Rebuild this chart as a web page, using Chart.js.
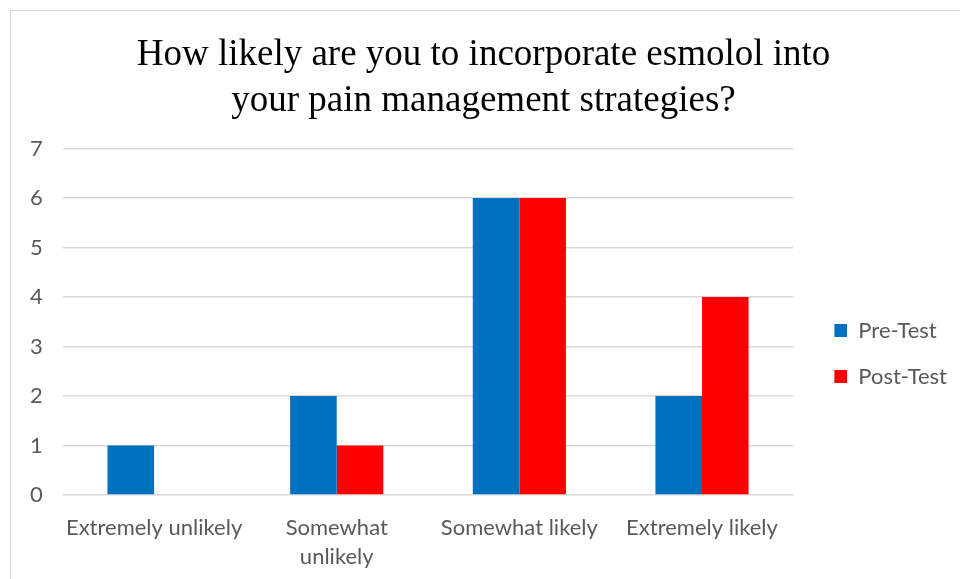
<!DOCTYPE html>
<html>
<head>
<meta charset="utf-8">
<script src="https://cdn.jsdelivr.net/npm/chart.js@4"></script>
<style>
    body { margin: 0; background: #fff; }
    #wrap { position: relative; width: 960px; height: 579px; overflow: hidden; }
    #frame { position: absolute; left: 10px; top: 10px; width: 980px; height: 600px;
             border-left: 1px solid #d9d9d9; border-top: 1px solid #d9d9d9; }
    canvas { position: absolute; left: 0; top: 0; }
</style>
</head>
<body>
<div id="wrap">
    <div id="frame"></div>
    <canvas id="mybarchart" width="960" height="579"></canvas>
</div>
<script>
var categories = ["Extremely unlikely", ["Somewhat", "unlikely"], "Somewhat likely", "Extremely likely"];
var preTest = [1, 2, 6, 2];
var postTest = [0, 1, 6, 4];
var yTicks = [0, 1, 2, 3, 4, 5, 6, 7];

var labelFont = { family: "Lato", size: 22 };

// legend swatch: square sits at the right end of a wider transparent image
function swatch(color) {
    var c = document.createElement("canvas");
    c.width = 30;
    c.height = 13;
    var g = c.getContext("2d");
    g.fillStyle = color;
    g.fillRect(17, 0, 13, 13);
    return c;
}

new Chart(document.getElementById("mybarchart").getContext("2d"), {
    type: "bar",
    data: {
        labels: categories,
        datasets: [
            {
                label: "Pre-Test",
                data: preTest,
                backgroundColor: "#0070C0",
            },
            {
                label: "Post-Test",
                data: postTest,
                backgroundColor: "#FF0000",
            },
        ],
    },
    options: {
        responsive: false,
        animation: false,
        layout: { padding: { left: 10, right: 3, top: 0, bottom: 0 } },
        datasets: {
            bar: { categoryPercentage: 0.51, barPercentage: 1.0 },
        },
        plugins: {
            title: {
                display: true,
                text: ["How likely are you to incorporate esmolol into", "your pain management strategies?"],
                color: "#000",
                font: { family: "Liberation Serif", size: 37, weight: "normal", lineHeight: 1.25 },
                padding: { top: 32, bottom: 24 },
            },
            legend: {
                position: "right",
                title: { display: true, text: "", font: { size: 10, lineHeight: 1 }, padding: { top: 0, bottom: 118 } },
                labels: {
                    usePointStyle: true,
                    pointStyleWidth: 30,
                    boxHeight: 13,
                    padding: 24,
                    color: "#595959",
                    font: labelFont,
                    generateLabels: function (chart) {
                        var items = Chart.defaults.plugins.legend.labels.generateLabels(chart);
                        items.forEach(function (it, i) {
                            it.pointStyle = swatch(chart.data.datasets[i].backgroundColor);
                        });
                        return items;
                    },
                },
            },
            tooltip: { enabled: false },
        },
        scales: {
            x: {
                grid: { display: false, drawTicks: false },
                border: { display: false },
                ticks: { color: "#595959", font: { family: "Lato", size: 22, lineHeight: 1.3 }, padding: 19, maxRotation: 0 },
                afterFit: function (axis) {
                    axis.height = 84;
                },
            },
            y: {
                min: 0,
                max: 7,
                afterBuildTicks: function (axis) {
                    axis.ticks = yTicks.map(function (v) { return { value: v }; });
                },
                grid: { color: "#d9d9d9", lineWidth: 1.5, drawTicks: false },
                border: { display: false },
                ticks: { color: "#595959", font: labelFont, padding: 20 },
            },
        },
    },
});
</script>
</body>
</html>
